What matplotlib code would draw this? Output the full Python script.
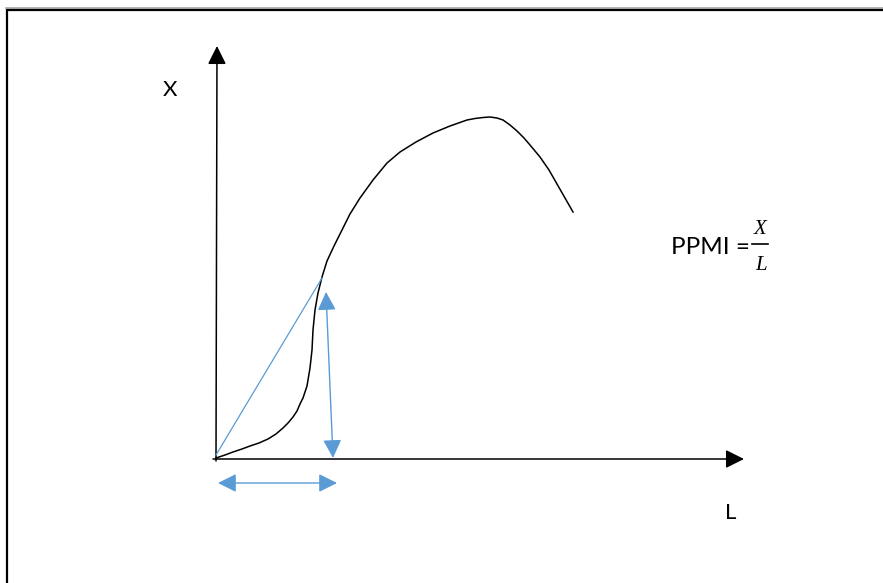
import matplotlib
matplotlib.use("Agg")
import matplotlib.pyplot as plt
from matplotlib.patches import FancyArrowPatch
from matplotlib.lines import Line2D

# Curve of X against L (diagram units, origin at the axes crossing)
curve_L = [0, 9, 17, 26, 34, 43, 52, 60, 67, 72, 77, 81, 84, 87, 89, 91, 92, 93,
           94, 95, 96, 97, 99, 102, 106, 111, 118, 126, 134, 144, 157, 171, 184,
           200, 217, 234, 251, 259, 267, 274, 281, 287, 294, 301, 308, 314, 324,
           333, 341, 349, 357]
curve_X = [1, 4, 7, 10, 13, 16, 20, 25, 31, 36, 42, 48, 55, 61, 67, 73, 79, 85,
           91, 100, 109, 129, 149, 166, 182, 198, 213, 229, 245, 261, 279, 296, 307,
           317, 326, 333, 339, 340.5, 341.5, 342, 341, 339, 334, 328, 321, 314, 302,
           289, 275, 261, 247]

# Secant from the origin to the chosen point on the curve
secant_L = [0, 106]
secant_X = [4, 181]

# Double arrows marking X (vertical) and L (horizontal)
x_arrow_L = [110, 117]
x_arrow_X = [167, 1]
l_arrow_L = [2, 121]
l_arrow_X = [-24, -24]

# Axis extents
x_axis_end = 528
y_axis_end = 413

BLUE = "#5B9BD5"
HEAD = "head_length=0.4,head_width=0.2"

fig = plt.figure(figsize=(8.83, 5.83), dpi=100)
ax = fig.add_axes([0, 0, 1, 1])
ax.set_xlim(-216, 667)
ax.set_ylim(-124, 459)
ax.axis("off")

# Page frame
fig.add_artist(Line2D([6 / 883, 1], [1 - 7.5 / 583] * 2, color="#a6a6a6", lw=1.2))
fig.add_artist(Line2D([6.5 / 883, 6.5 / 883, 1], [0, 1 - 9.5 / 583, 1 - 9.5 / 583],
                      color="black", lw=1.6, solid_joinstyle="miter"))

# Axes with arrowheads
ax.add_patch(FancyArrowPatch((-3, 0), (x_axis_end, 0), arrowstyle="-|>," + HEAD,
                             mutation_scale=28, color="black", lw=1.1, shrinkA=0, shrinkB=0))
ax.add_patch(FancyArrowPatch((0, -2), (1, y_axis_end), arrowstyle="-|>," + HEAD,
                             mutation_scale=28, color="black", lw=1.1, shrinkA=0, shrinkB=0))

# Curve
ax.plot(curve_L, curve_X, color="black", lw=1.1, solid_joinstyle="round")

# Secant
ax.plot(secant_L, secant_X, color=BLUE, lw=0.9)

# Double arrows
ax.add_patch(FancyArrowPatch((x_arrow_L[0], x_arrow_X[0]), (x_arrow_L[1], x_arrow_X[1]),
                             arrowstyle="<|-|>," + HEAD, mutation_scale=28,
                             color=BLUE, lw=1.0, shrinkA=0, shrinkB=0))
ax.add_patch(FancyArrowPatch((l_arrow_L[0], l_arrow_X[0]), (l_arrow_L[1], l_arrow_X[1]),
                             arrowstyle="<|-|>," + HEAD, mutation_scale=28,
                             color=BLUE, lw=1.0, shrinkA=0, shrinkB=0))

# Axis labels
ax.text(-46, 369, "X", fontsize=16, family="Lato", ha="center", va="center")
ax.text(515, -54, "L", fontsize=16, family="Lato", ha="center", va="center")

# Formula: PPMI = X / L
ax.text(534, 212, "PPMI =", fontsize=17.5, family="Lato", ha="right", va="center")
ax.text(544, 229, "X", fontsize=15, family="Liberation Serif", style="italic",
        ha="center", va="center")
ax.text(545, 193, "L", fontsize=15, family="Liberation Serif", style="italic",
        ha="center", va="center")
ax.plot([536, 552], [215, 215], color="black", lw=1.2)

fig.savefig("out.png", dpi=100)
